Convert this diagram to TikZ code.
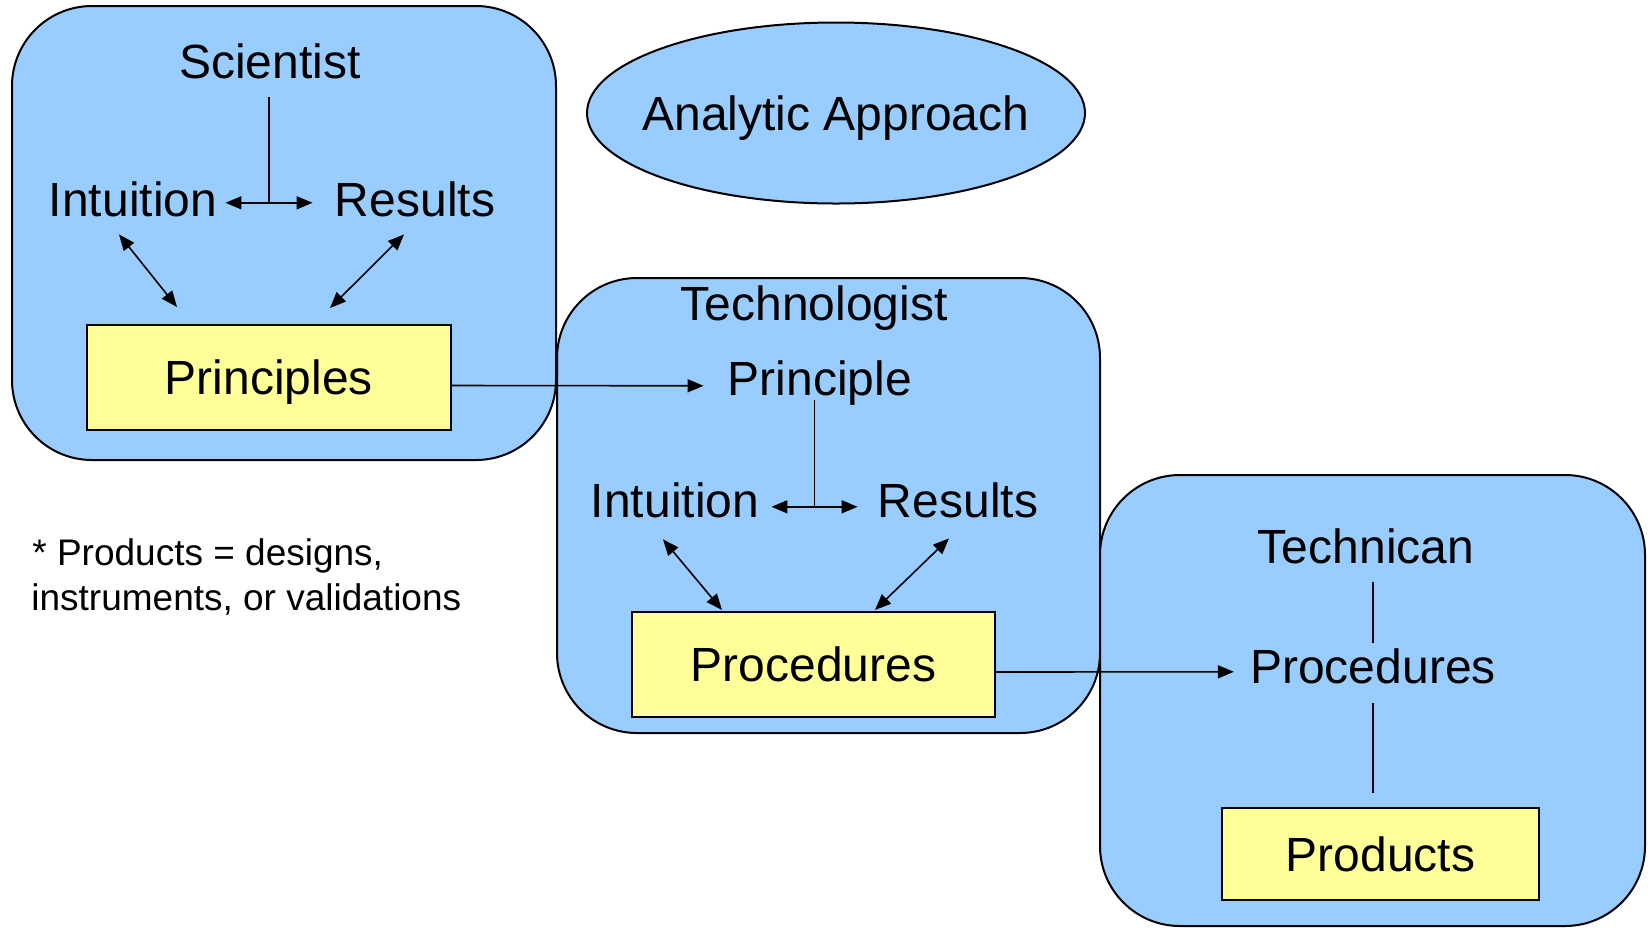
\documentclass[tikz,border=0pt]{standalone}
\usepackage{fontspec}
\setmainfont{Liberation Sans}
\usetikzlibrary{arrows.meta,shapes.geometric,calc}
\definecolor{roleblue}{HTML}{99CCFF}
\definecolor{stepyellow}{HTML}{FFFF99}
\begin{document}
\begin{tikzpicture}[x=0.5pt,y=-0.5pt,
  role/.style={draw=black,line width=1pt,fill=roleblue,rounded corners=40pt,inner sep=0pt},
  lbl/.style={inner sep=0pt,font=\fontsize{24}{28}\selectfont,text height=17.2pt,text depth=0pt,anchor=base},
  ybox/.style={draw=black,line width=1pt,fill=stepyellow,inner sep=0pt,font=\fontsize{24}{28}\selectfont,text height=17.2pt,text depth=0pt},
  conn/.style={line width=0.8pt},
  dbl/.style={conn,{Triangle[length=8pt,width=6.5pt]}-{Triangle[length=8pt,width=6.5pt]}},
  one/.style={conn,-{Triangle[length=8pt,width=6.5pt]}},
  note/.style={inner sep=0pt,font=\fontsize{18.5}{22.5}\selectfont,anchor=base west}]
\useasboundingbox (0,0) rectangle (1648,928);
\fill[white] (0,0) rectangle (1648,928);

% role boxes
\node[role,minimum width=272pt,minimum height=227pt] (sbox) at (284,233) {};
\node[role,minimum width=271.5pt,minimum height=227.5pt] (tbox) at (828.5,505.5) {};
\node[role,minimum width=272.5pt,minimum height=225.5pt] (cbox) at (1372.5,700.5) {};

% ellipse
\node[ellipse,draw=black,line width=1pt,fill=roleblue,minimum width=249pt,minimum height=90.5pt,inner sep=0pt,
      font=\fontsize{24}{28}\selectfont,text height=17.2pt,text depth=0pt] (appr) at (836,113) {\makebox[0pt]{Analytic Approach}};

% Scientist box
\node[lbl] (sci) at (270,78) {Scientist};
\node[lbl] (int1) at (133,216) {Intuition};
\node[lbl] (res1) at (415,216) {Results};
\node[ybox,minimum width=182pt,minimum height=52.5pt] (pr) at (269,377.5) {Principles};

% Technologist box
\node[lbl] (tech) at (814,320) {Technologist};
\node[lbl] (tprin) at (820,395) {Principle};
\node[lbl] (int2) at (675,517) {Intuition};
\node[lbl] (res2) at (958,517) {Results};
\node[ybox,minimum width=181.5pt,minimum height=52.5pt] (pb) at (813.5,664.5) {Procedures};

% Technican box
\node[lbl] (techn) at (1366,563) {Technican};
\node[lbl] (tproc) at (1373,683) {Procedures};
\node[ybox,minimum width=158.5pt,minimum height=46pt] (prod) at (1380.5,854) {Products};

% footnote
\node[note] (note1) at (32,565) {* Products = designs,};
\node[note] (note2) at (31,610) {instruments, or validations};

% connectors, Scientist
\draw[dbl] ([shift={(8,4)}]int1.east) -- coordinate[pos=0.5] (j1) ([shift={(-22,4)}]res1.west);
\draw[conn,shorten >=9.5pt] (j1) -- (j1 |- sci.south);
\draw[dbl] ([shift={(-14,18)}]int1.south) -- ([shift={(-92,-17)}]pr.north);
\draw[dbl] ([shift={(-11,18)}]res1.south) -- ([shift={(61,-16)}]pr.north);
\draw[one] ([shift={(0,8)}]pr.east) -- ([shift={(-24,8)}]tprin.west);

% connectors, Technologist
\draw[dbl] ([shift={(12,7)}]int2.east) -- coordinate[pos=0.5] (j2) ([shift={(-20,7)}]res2.west);
\draw[conn,shorten >=2.5pt] (j2) -- (j2 |- tprin.south);
\draw[dbl] ([shift={(-12,22)}]int2.south) -- ([shift={(-91.5,-1)}]pb.north);
\draw[dbl] ([shift={(-9,21)}]res2.south) -- ([shift={(61.5,-1)}]pb.north);
\draw[one] ([shift={(0,7.5)}]pb.east) -- ([shift={(-16,6)}]tproc.west);

% connectors, Technican
\draw[conn,shorten <=2.8pt,shorten >=9.5pt] (tproc.north) -- (tproc.north |- techn.south);
\draw[conn,shorten <=10pt,shorten >=7pt] (tproc.south) -- (tproc.south |- prod.north);
\end{tikzpicture}
\end{document}
